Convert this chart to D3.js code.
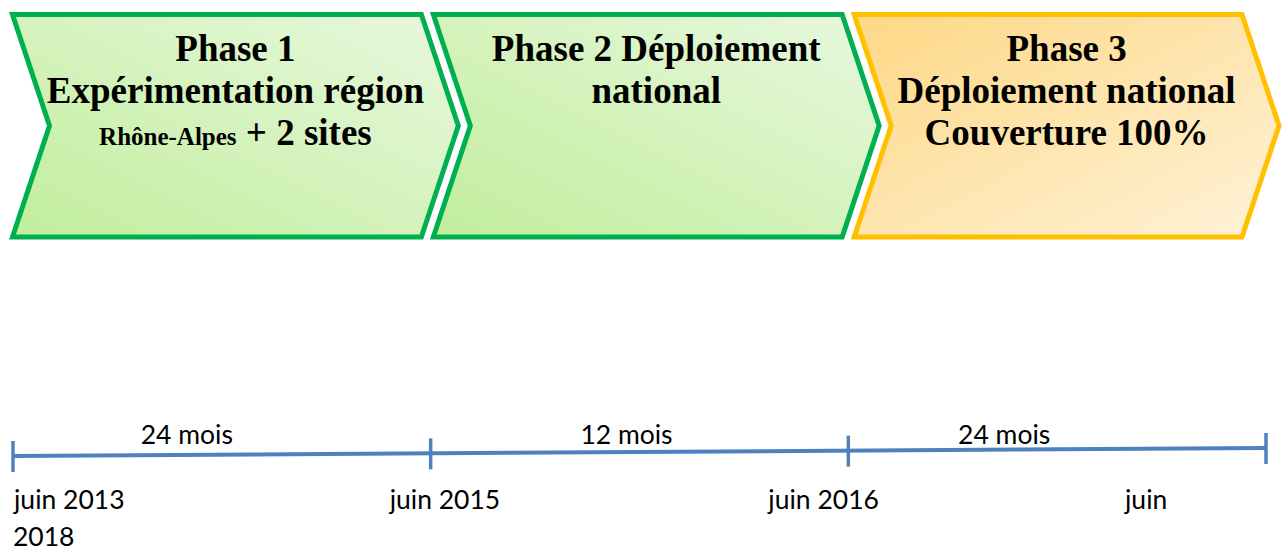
<!DOCTYPE html>
<html>
<head>
<meta charset="utf-8">
<script src="https://cdnjs.cloudflare.com/ajax/libs/d3/7.8.5/d3.min.js"></script>
<style>
  html, body { margin: 0; padding: 0; background: #fff; overflow: hidden; }
</style>
</head>
<body>
<div id="chart"></div>
<script>
// Phases (chevrons) and their text lines
const phases = ["Phase 1", "Phase 2", "Phase 3"];
const phaseLines = [
    [["Phase 1"], ["Expérimentation région"], ["Rhône-Alpes", " + 2 sites"]],
    [["Phase 2 Déploiement"], ["national"]],
    [["Phase 3"], ["Déploiement national"], ["Couverture 100%"]]
];
const phaseKind = ["green", "green", "orange"];

// Timeline
const milestones = ["juin 2013", "juin 2015", "juin 2016", "juin 2018"];
const durations = ["24 mois", "12 mois", "24 mois"];

// Layout nudges (text placement as in the source document)
const milestoneDx = [1, -41, -80, -141];
const durationDx = [-35, -13, -53];

const W = 1285, H = 553;

const svg = d3.select("#chart")
    .append("svg")
    .attr("width", W)
    .attr("height", H);

// Gradients
const defs = svg.append("defs");
const gGreen = defs.append("linearGradient")
    .attr("id", "grad-green")
    .attr("x1", "0%").attr("y1", "100%")
    .attr("x2", "100%").attr("y2", "0%");
gGreen.append("stop").attr("offset", "0%").attr("stop-color", "#c1ee9c");
gGreen.append("stop").attr("offset", "100%").attr("stop-color", "#e8f8df");

const gOrange = defs.append("linearGradient")
    .attr("id", "grad-orange")
    .attr("x1", "0%").attr("y1", "0%")
    .attr("x2", "100%").attr("y2", "100%");
gOrange.append("stop").attr("offset", "0%").attr("stop-color", "#fdd885");
gOrange.append("stop").attr("offset", "100%").attr("stop-color", "#fff2d8");

const style = {
    green: { fill: "url(#grad-green)", stroke: "#00b050" },
    orange: { fill: "url(#grad-orange)", stroke: "#ffc000" }
};

// Chevron scale
const xPhase = d3.scaleBand()
    .domain(phases)
    .range([12.5, 1275])
    .paddingInner(0);

const chevTop = 14.5, chevBottom = 237, chevMid = (chevTop + chevBottom) / 2;
const notch = 37, overlap = 25;

phases.forEach((p, i) => {
    const x0 = xPhase(p);
    const w = Math.min(xPhase.step() + overlap, 1279 - x0);
    const pts = [
        [x0, chevTop], [x0 + w - notch, chevTop], [x0 + w, chevMid],
        [x0 + w - notch, chevBottom], [x0, chevBottom], [x0 + notch, chevMid]
    ];
    const s = style[phaseKind[i]];
    svg.append("path")
        .attr("d", d3.line()(pts) + "Z")
        .attr("fill", s.fill)
        .attr("stroke", s.stroke)
        .attr("stroke-width", 5)
        .attr("stroke-linejoin", "miter");

    const cx = x0 + notch / 2 + (w - notch) / 2;
    const text = svg.append("text")
        .attr("text-anchor", "middle")
        .attr("font-family", "'Liberation Serif', 'Times New Roman', serif")
        .attr("font-weight", "bold")
        .attr("font-size", 37)
        .attr("fill", "#000");

    phaseLines[i].forEach((parts, j) => {
        const line = text.append("tspan")
            .attr("x", cx)
            .attr("y", 61 + j * 42);
        parts.forEach((part, k) => {
            line.append("tspan")
                .attr("font-size", (i === 0 && j === 2 && k === 0) ? 25 : 37)
                .text(part);
        });
    });
});

// Timeline
const xTime = d3.scalePoint()
    .domain(milestones)
    .range([13, 1266]);

const yLine = d3.scaleLinear()
    .domain([13, 1266])
    .range([456, 448]);

const lineColor = "#4f81bd";

svg.append("line")
    .attr("x1", xTime(milestones[0]))
    .attr("y1", yLine(xTime(milestones[0])))
    .attr("x2", xTime(milestones[milestones.length - 1]))
    .attr("y2", yLine(xTime(milestones[milestones.length - 1])))
    .attr("stroke", lineColor)
    .attr("stroke-width", 4);

milestones.forEach((m, i) => {
    const x = xTime(m);
    const y = yLine(x);
    svg.append("line")
        .attr("x1", x).attr("x2", x)
        .attr("y1", y - 15).attr("y2", y + 16)
        .attr("stroke", lineColor)
        .attr("stroke-width", 3.5);
});

const labelFont = "Lato, 'Open Sans', sans-serif";
const labelSize = 26.5;

// Duration labels
durations.forEach((d, i) => {
    const xm = (xTime(milestones[i]) + xTime(milestones[i + 1])) / 2 + durationDx[i];
    svg.append("text")
        .attr("x", xm)
        .attr("y", 444)
        .attr("text-anchor", "middle")
        .attr("font-family", labelFont)
        .attr("font-size", labelSize)
        .attr("fill", "#000")
        .text(d);
});

// Milestone labels (the last one wraps onto the next line, as in the source)
milestones.forEach((m, i) => {
    const x = xTime(m) + milestoneDx[i];
    const last = i === milestones.length - 1;
    const parts = m.split(" ");
    svg.append("text")
        .attr("x", x)
        .attr("y", 509)
        .attr("font-family", labelFont)
        .attr("font-size", labelSize)
        .attr("fill", "#000")
        .text(last ? parts[0] : m);
    if (last) {
        svg.append("text")
            .attr("x", xTime(milestones[0]))
            .attr("y", 546)
            .attr("font-family", labelFont)
            .attr("font-size", labelSize)
            .attr("fill", "#000")
            .text(parts[1]);
    }
});
</script>
</body>
</html>
